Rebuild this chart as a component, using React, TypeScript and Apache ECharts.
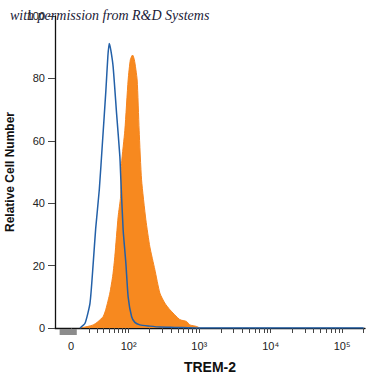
import React, { useEffect, useRef } from "react";
import * as echarts from "echarts";

// Display transform of the flow-cytometry (biexponential-like) axis
const B = 16;
const toDisplay = (v: number) => Math.log10(B) + Math.asinh(v / (2 * B)) / Math.LN10;

// Axis range in display units
const X_MIN = 0.98;
const X_MAX = 5.32;

// Tick intensities
const majorTicks = [0, 100, 1000, 10000, 100000];
const majorLabels = ["0", "10²", "10³", "10⁴", "10⁵"];
const minorTicks = [
  20, 30, 40, 50, 60, 70, 80, 90,
  200, 300, 400, 500, 600, 700, 800, 900,
  2000, 3000, 4000, 5000, 6000, 7000, 8000, 9000,
  20000, 30000, 40000, 50000, 60000, 70000, 80000, 90000,
  200000,
];

// Isotype control (blue line): bin centre (display units), relative count
const isoX = [1.33, 1.4, 1.47, 1.515, 1.55, 1.6, 1.646, 1.692, 1.72, 1.739, 1.762, 1.794, 1.842, 1.888, 1.902, 1.934, 1.972, 2.004, 2.052, 2.098, 2.168, 2.308, 2.448, 2.657, 3.0, 4.0, 5.3];
const isoY = [0, 1.5, 8, 20.8, 32, 44.3, 60, 76, 87, 91.2, 89, 83.7, 68.8, 55, 47.5, 31.5, 20.8, 10, 3.7, 1.8, 1, 0.6, 0.3, 0.2, 0, 0, 0];

// TREM-2 stained (orange filled)
const stainX = [1.33, 1.44, 1.515, 1.58, 1.655, 1.692, 1.748, 1.79, 1.818, 1.864, 1.898, 1.912, 1.958, 2.004, 2.035, 2.066, 2.091, 2.13, 2.158, 2.192, 2.252, 2.308, 2.378, 2.448, 2.517, 2.587, 2.727, 2.821, 2.867, 2.961, 3.007];
const stainY = [0, 0.5, 1, 2, 3.7, 6, 11.2, 17, 23, 35.7, 42, 52.8, 63.4, 79.5, 86, 87.5, 86, 79.5, 63.4, 47.5, 34.7, 26, 18.7, 11.2, 8, 5.9, 2.7, 2.1, 1, 0.5, 0];

// Grey low-end event marker (intensity range)
const lowEndRange = [-12, 6];

const yTicks = [0, 20, 40, 60, 80, 100];

const FONT = "'Liberation Sans', Arial, sans-serif";

export default function App() {
  const ref = useRef<HTMLDivElement>(null);
  useEffect(() => {
    if (!ref.current) return;
    document.body.style.margin = "0";
    const chart = echarts.init(ref.current, null, { renderer: "svg" });
    const majorVals = majorTicks.map(toDisplay);
    const labelMap = new Map<string, string>();
    majorVals.forEach((v, i) => labelMap.set(v.toFixed(6), majorLabels[i]));
    const tickVals = [...majorVals, ...minorTicks.map(toDisplay)];

    chart.setOption({
      animation: false,
      grid: { left: 55, right: 10, top: 16, bottom: 47, containLabel: false, outerBoundsMode: "none" },
      xAxis: {
        type: "value",
        min: X_MIN,
        max: X_MAX,
        name: "TREM-2",
        nameLocation: "middle",
        nameGap: 32,
        nameTextStyle: { fontFamily: FONT, fontWeight: "bold", fontSize: 14, color: "#111" },
        axisLine: { show: true, lineStyle: { color: "#111", width: 1.3 } },
        axisTick: { show: true, inside: false, length: 5, customValues: tickVals, lineStyle: { color: "#444", width: 1 } },
        axisLabel: {
          show: true,
          margin: 12,
          customValues: majorVals,
          fontFamily: FONT,
          fontSize: 11,
          color: "#222",
          formatter: (v: number) => labelMap.get(v.toFixed(6)) ?? "",
        },
        splitLine: { show: false },
      },
      yAxis: {
        type: "value",
        min: 0,
        max: 100,
        interval: 20,
        name: "Relative Cell Number",
        nameLocation: "middle",
        nameGap: 36,
        nameTextStyle: { fontFamily: FONT, fontWeight: "bold", fontSize: 12, color: "#111" },
        axisLine: { show: true, lineStyle: { color: "#111", width: 1.3 } },
        axisTick: { show: true, inside: false, length: 7, lineStyle: { color: "#444" } },
        axisLabel: { margin: 10, fontFamily: FONT, fontSize: 11, color: "#222", customValues: yTicks },
        splitLine: { show: false },
      },
      series: [
        {
          name: "TREM-2",
          type: "line",
          data: stainX.map((x, i) => [x, stainY[i]]),
          showSymbol: false,
          smooth: 0.2,
          lineStyle: { color: "#f5851f", width: 1 },
          areaStyle: { color: "#f7891f", opacity: 1 },
          z: 2,
        },
        {
          name: "Isotype",
          type: "line",
          data: isoX.map((x, i) => [x, isoY[i]]),
          showSymbol: false,
          smooth: 0.2,
          lineStyle: { color: "#2360a8", width: 1.5 },
          z: 3,
        },
      ],
    });

    const p0 = chart.convertToPixel({ gridIndex: 0 }, [toDisplay(lowEndRange[0]), 0]);
    const p1 = chart.convertToPixel({ gridIndex: 0 }, [toDisplay(lowEndRange[1]), 0]);
    chart.setOption({
      graphic: [
        {
          type: "rect",
          shape: { x: p0[0], y: p0[1] + 1, width: p1[0] - p0[0], height: 6 },
          style: { fill: "#8c8c8c" },
          z: 1,
        },
        {
          type: "text",
          left: 10,
          top: 8,
          style: {
            text: "with permission from R&D Systems",
            font: "italic 14px 'Liberation Serif', 'DejaVu Serif', serif",
            fill: "#1b1b38",
          },
          z: 10,
        },
      ],
    });
    return () => chart.dispose();
  }, []);
  return <div ref={ref} style={{ width: 375, height: 375 }} />;
}
